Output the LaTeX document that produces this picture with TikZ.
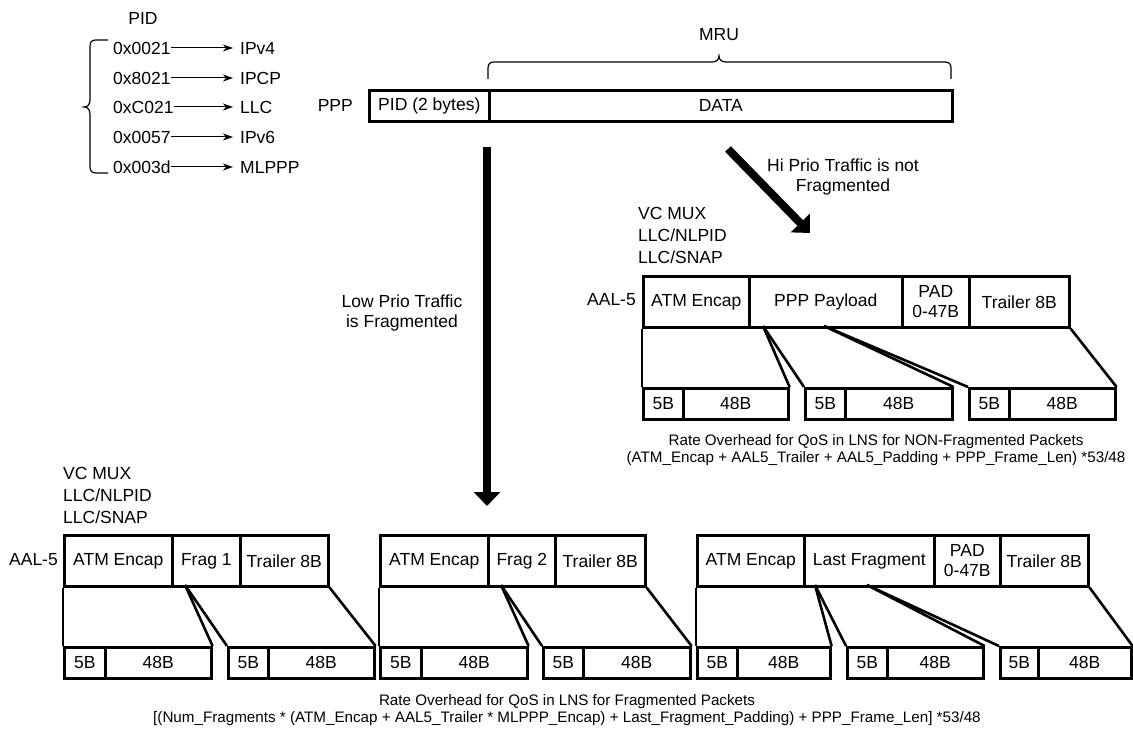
\documentclass[tikz,border=0pt]{standalone}
\usepackage{fontspec}
\setmainfont{Liberation Sans}
\usetikzlibrary{arrows.meta}
\newcommand\lblfont{\fontsize{17.5}{20.5}\selectfont}
\newcommand\fmlfont{\fontsize{15.2}{17}\selectfont}
\begin{document}
\begin{tikzpicture}[x=1pt,y=-1pt,
  every node/.style={inner sep=0pt, font=\lblfont},
  seg/.style={draw, line width=2.6pt, anchor=north west, align=center},
  fh/.style={minimum height=51pt},
  chh/.style={minimum height=31pt},
  link/.style={line width=2.6pt},
  bigarrow/.style={line width=8pt, -{Triangle[length=14pt,width=26pt]}},
  pidarrow/.style={line width=1pt, -{Stealth[length=10pt,width=7pt,inset=3pt]}, shorten >=7pt},
  bracestyle/.style={line width=1.2pt},
  txt/.style={align=center},
  fml/.style={align=center, font=\fmlfont}]
\useasboundingbox (0,0) rectangle (1133,730);

% ---------- PID list ----------
\node (pidttl) at (143,18) {PID};
\draw[bracestyle] (108,40) -- (96,40) .. controls (92,40) and (90,42) .. (90,46) -- (90,100)
  .. controls (90,104) and (88,107) .. (84,107) .. controls (88,107) and (90,110) .. (90,114)
  -- (90,167) .. controls (90,171) and (92,173) .. (96,173) -- (108,173);
\node[anchor=west] (h1) at (113,48) {0x0021};
\node[anchor=west] (p1) at (240,48) {IPv4};
\node[anchor=west] (h2) at (113,78) {0x8021};
\node[anchor=west] (p2) at (240,78) {IPCP};
\node[anchor=west] (h3) at (113,107) {0xC021};
\node[anchor=west] (p3) at (240,107) {LLC};
\node[anchor=west] (h4) at (113,137) {0x0057};
\node[anchor=west] (p4) at (240,137) {IPv6};
\node[anchor=west] (h5) at (113,167) {0x003d};
\node[anchor=west] (p5) at (240,167) {MLPPP};
\foreach \i in {1,...,5} { \draw[pidarrow] (h\i) -- (p\i); }

% ---------- PPP frame ----------
\node[anchor=east] (ppplbl) at (353,105) {PPP};
\node[seg, minimum width=120pt, minimum height=31pt] (pid) at (368,89) {PID (2 bytes)};
\node[seg, minimum width=463pt, minimum height=31pt] (data) at (488,89) {DATA};
\draw[bracestyle] (488,79) -- (488,68) .. controls (488,64) and (490,62) .. (494,62) -- (712,62)
  .. controls (716,62) and (719,60) .. (719,56) .. controls (719,60) and (722,62) .. (726,62)
  -- (945,62) .. controls (949,62) and (951,64) .. (951,68) -- (951,79);
\node (mru) at (719,35) {MRU};

% ---------- big arrows ----------
\coordinate (la0) at (487,147);
\coordinate (la1) at (487,506);
\draw[bigarrow] (la0) -- (la1);
\node[txt] (lowlbl) at (402,313) {Low Prio Traffic\\is Fragmented};
\coordinate (ha0) at (728,149);
\coordinate (ha1) at (810,233);
\draw[bigarrow] (ha0) -- (ha1);
\node[txt] (hilbl) at (843,177) {Hi Prio Traffic is not\\Fragmented};

% ---------- top-right AAL-5 (non-fragmented) ----------
\node[align=left, anchor=west, font=\fontsize{17.5}{22}\selectfont] (vct) at (638,235) {VC MUX\\LLC/NLPID\\LLC/SNAP};
\node[anchor=east] (aalt) at (636,300) {AAL-5};
\node[seg, fh, minimum width=106pt] (tA) at (642,275) {ATM Encap};
\node[seg, fh, minimum width=153pt] (tP) at (748,275) {PPP Payload};
\node[seg, fh, minimum width=67pt] (tD) at (901,275) {PAD\\0-47B};
\node[seg, fh, minimum width=100pt] (tT) at (968,275) {Trailer 8B};
\node[seg, chh, minimum width=40pt] (tc1a) at (642,387) {5B};
\node[seg, chh, minimum width=105pt] (tc1b) at (682,387) {48B};
\node[seg, chh, minimum width=40pt] (tc2a) at (804,387) {5B};
\node[seg, chh, minimum width=107pt] (tc2b) at (844,387) {48B};
\node[seg, chh, minimum width=40pt] (tc3a) at (968,387) {5B};
\node[seg, chh, minimum width=106pt] (tc3b) at (1008,387) {48B};
\coordinate (ts1) at (763,326);
\coordinate (ts2) at (824,326);
\draw[link] (tA.south west) -- (tc1a.north west);
\draw[link] (ts1) -- (tc1b.north east);
\draw[link] (ts1) -- (tc2a.north west);
\draw[link] (ts2) -- (tc2b.north east);
\draw[link] (ts2) -- (tc3a.north west);
\draw[link] (tT.south east) -- (tc3b.north east);
\node[fml] (fmlt) at (876,450) {Rate Overhead for QoS in LNS for NON-Fragmented Packets\\(ATM\_Encap + AAL5\_Trailer + AAL5\_Padding + PPP\_Frame\_Len) *53/48};

% ---------- bottom-left ----------
\node[align=left, anchor=west, font=\fontsize{17.5}{22}\selectfont] (vcb) at (63,495) {VC MUX\\LLC/NLPID\\LLC/SNAP};
\node[anchor=east] (aalb) at (58,560) {AAL-5};
\node[seg, fh, minimum width=108pt] (lA) at (63,534) {ATM Encap};
\node[seg, fh, minimum width=68pt] (lF) at (171,534) {Frag 1};
\node[seg, fh, minimum width=88pt] (lT) at (239,534) {Trailer 8B};
\node[seg, chh, minimum width=41pt] (lc1a) at (63,646) {5B};
\node[seg, chh, minimum width=106pt] (lc1b) at (104,646) {48B};
\node[seg, chh, minimum width=40pt] (lc2a) at (227,646) {5B};
\node[seg, chh, minimum width=106pt] (lc2b) at (267,646) {48B};
\coordinate (ls1) at (185,585);
\draw[link] (lA.south west) -- (lc1a.north west);
\draw[link] (ls1) -- (lc1b.north east);
\draw[link] (ls1) -- (lc2a.north west);
\draw[link] (lT.south east) -- (lc2b.north east);

% ---------- bottom-middle ----------
\node[seg, fh, minimum width=108pt] (mA) at (379,534) {ATM Encap};
\node[seg, fh, minimum width=67pt] (mF) at (487,534) {Frag 2};
\node[seg, fh, minimum width=90pt] (mT) at (554,534) {Trailer 8B};
\node[seg, chh, minimum width=41pt] (mc1a) at (379,646) {5B};
\node[seg, chh, minimum width=106pt] (mc1b) at (420,646) {48B};
\node[seg, chh, minimum width=40pt] (mc2a) at (542,646) {5B};
\node[seg, chh, minimum width=107pt] (mc2b) at (582,646) {48B};
\coordinate (ms1) at (501,585);
\draw[link] (mA.south west) -- (mc1a.north west);
\draw[link] (ms1) -- (mc1b.north east);
\draw[link] (ms1) -- (mc2a.north west);
\draw[link] (mT.south east) -- (mc2b.north east);

% ---------- bottom-right ----------
\node[seg, fh, minimum width=107pt] (rA) at (696,534) {ATM Encap};
\node[seg, fh, minimum width=130pt] (rL) at (803,534) {Last Fragment};
\node[seg, fh, minimum width=66pt] (rD) at (933,534) {PAD\\0-47B};
\node[seg, fh, minimum width=88pt] (rT) at (999,534) {Trailer 8B};
\node[seg, chh, minimum width=40pt] (rc1a) at (696,646) {5B};
\node[seg, chh, minimum width=93pt] (rc1b) at (736,646) {48B};
\node[seg, chh, minimum width=40pt] (rc2a) at (846,646) {5B};
\node[seg, chh, minimum width=96pt] (rc2b) at (886,646) {48B};
\node[seg, chh, minimum width=38pt] (rc3a) at (999,646) {5B};
\node[seg, chh, minimum width=93pt] (rc3b) at (1037,646) {48B};
\coordinate (rs1) at (815,585);
\coordinate (rs2) at (867,585);
\draw[link] (rA.south west) -- (rc1a.north west);
\draw[link] (rs1) -- (rc1b.north east);
\draw[link] (rs1) -- (rc2a.north west);
\draw[link] (rs2) -- (rc2b.north east);
\draw[link] (rs2) -- (rc3a.north west);
\draw[link] (rT.south east) -- (rc3b.north east);

\node[fml] (fmlb) at (567,710) {Rate Overhead for QoS in LNS for Fragmented Packets\\{}[(Num\_Fragments * (ATM\_Encap + AAL5\_Trailer * MLPPP\_Encap) + Last\_Fragment\_Padding) + PPP\_Frame\_Len] *53/48};
\end{tikzpicture}
\end{document}
